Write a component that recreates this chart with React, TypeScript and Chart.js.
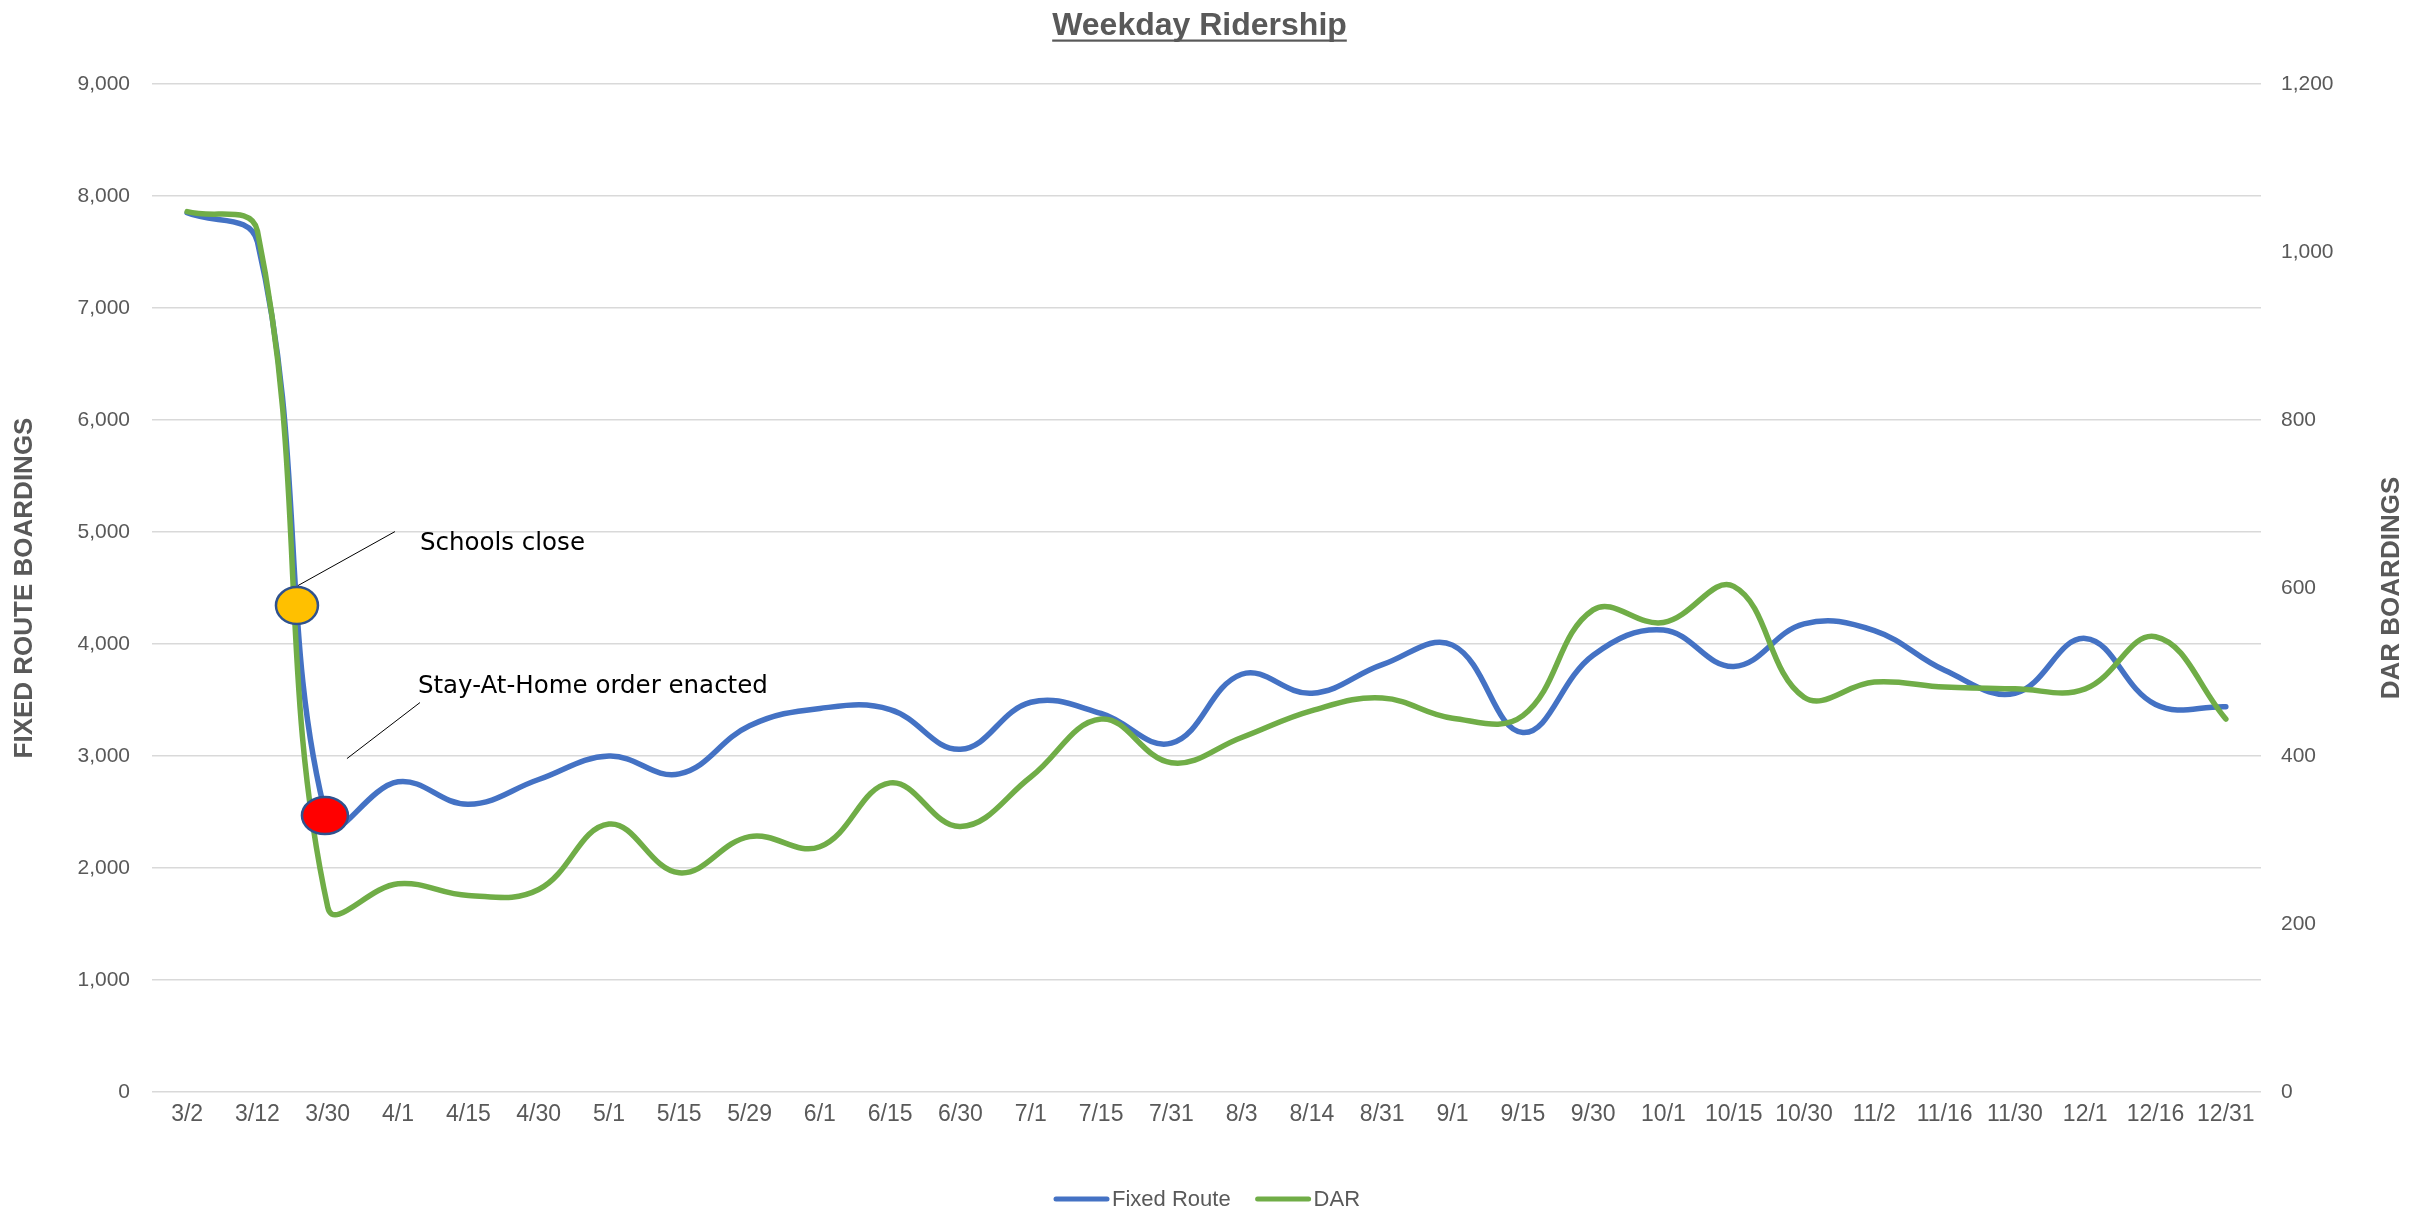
import React, { useEffect, useRef } from 'react';
import { Chart, registerables } from 'chart.js';

Chart.register(...registerables);

// ---- Data ----
const categories = ['3/2', '3/12', '3/30', '4/1', '4/15', '4/30', '5/1', '5/15', '5/29', '6/1', '6/15', '6/30', '7/1', '7/15', '7/31', '8/3', '8/14', '8/31', '9/1', '9/15', '9/30', '10/1', '10/15', '10/30', '11/2', '11/16', '11/30', '12/1', '12/16', '12/31'];
const fixedRoute = [7850, 7590, 2400, 2770, 2570, 2790, 3000, 2840, 3270, 3425, 3415, 3060, 3480, 3380, 3115, 3730, 3560, 3815, 3990, 3210, 3900, 4125, 3800, 4180, 4120, 3765, 3560, 4050, 3460, 3440];
const darBoardings = [1048, 1025, 220, 248, 234, 241, 319, 261, 304, 292, 368, 316, 375, 444, 392, 422, 454, 469, 445, 448, 574, 559, 602, 470, 488, 482, 480, 480, 542, 444];
const seriesNames = ['Fixed Route', 'DAR'];
const leftAxisTicks = [0, 1000, 2000, 3000, 4000, 5000, 6000, 7000, 8000, 9000];
const rightAxisTicks = [0, 200, 400, 600, 800, 1000, 1200];
const chartTitle = 'Weekday Ridership';
const leftAxisTitle = 'FIXED ROUTE BOARDINGS';
const rightAxisTitle = 'DAR BOARDINGS';
// annotation markers: [category index (fractional), fixed-route axis value]
const schoolsCloseMark = [1.562, 4343];
const stayAtHomeMark = [1.96, 2468];
const annotationTexts = ['Schools close', 'Stay-At-Home order enacted'];

const BLUE = '#4472C4';
const GREEN = '#70AD47';
const GREY = '#595959';

const customDraw = {
  id: 'customDraw',
  afterDatasetsDraw(chart: any) {
    const ctx = chart.ctx;
    const xs = chart.scales.x;
    const ys = chart.scales.y;
    const marks = [
      { v: schoolsCloseMark, fill: '#FFC000', rx: 21, ry: 18.5, text: annotationTexts[0], line: [1, -20, 98, -74], txt: [123, -62] },
      { v: stayAtHomeMark, fill: '#FF0000', rx: 23, ry: 18.5, text: annotationTexts[1], line: [95, -113, 22, -57], txt: [93, -129] },
    ];
    ctx.save();
    for (const m of marks) {
      const px = xs.getPixelForValue(m.v[0]);
      const py = ys.getPixelForValue(m.v[1]);
      ctx.strokeStyle = '#000';
      ctx.lineWidth = 1;
      ctx.beginPath();
      ctx.moveTo(px + m.line[0], py + m.line[1]);
      ctx.lineTo(px + m.line[2], py + m.line[3]);
      ctx.stroke();
      ctx.beginPath();
      ctx.ellipse(px, py, m.rx, m.ry, 0, 0, Math.PI * 2);
      ctx.fillStyle = m.fill;
      ctx.fill();
      ctx.lineWidth = 2.5;
      ctx.strokeStyle = '#2F528F';
      ctx.stroke();
      ctx.fillStyle = '#000';
      ctx.font = '24.5px "DejaVu Sans", Verdana, sans-serif';
      ctx.textAlign = 'left';
      ctx.textBaseline = 'middle';
      ctx.fillText(m.text, px + m.txt[0], py + m.txt[1]);
    }
    ctx.restore();
  },
  afterDraw(chart: any) {
    const ctx = chart.ctx;
    const ca = chart.chartArea;
    const W = chart.width;
    ctx.save();
    // Title
    ctx.font = 'bold 32px "Liberation Sans", Arial, sans-serif';
    ctx.fillStyle = GREY;
    ctx.textAlign = 'center';
    ctx.textBaseline = 'alphabetic';
    const tx = W / 2 - 17;
    ctx.fillText(chartTitle, tx, 35);
    const tw = ctx.measureText(chartTitle).width;
    ctx.fillRect(tx - tw / 2, 39.5, tw, 2.2);

    // Axis titles
    const midY = (ca.top + ca.bottom) / 2;
    ctx.font = 'bold 26px "Liberation Sans", Arial, sans-serif';
    ctx.textBaseline = 'middle';
    ctx.save();
    ctx.translate(ca.left - 127, midY);
    ctx.rotate(-Math.PI / 2);
    ctx.fillText(leftAxisTitle, 0, 0);
    ctx.restore();
    ctx.save();
    ctx.translate(ca.right + 131, midY);
    ctx.rotate(-Math.PI / 2);
    ctx.fillText(rightAxisTitle, 0, 0);
    ctx.restore();

    // Legend
    ctx.font = '22px "Liberation Sans", Arial, sans-serif';
    ctx.textAlign = 'left';
    ctx.textBaseline = 'middle';
    const ly = 1199;
    let x = 1054;
    const colors = [BLUE, GREEN];
    seriesNames.forEach((name, i) => {
      ctx.strokeStyle = colors[i];
      ctx.lineWidth = 5;
      ctx.lineCap = 'round';
      ctx.beginPath();
      ctx.moveTo(x + 2, ly);
      ctx.lineTo(x + 53, ly);
      ctx.stroke();
      x += 58;
      ctx.fillStyle = GREY;
      ctx.fillText(name, x, ly + 1);
      x += ctx.measureText(name).width + 25;
    });
    ctx.restore();
  },
};

export default function App() {
  const ref = useRef<HTMLCanvasElement>(null);
  useEffect(() => {
    document.body.style.margin = '0';
    const canvas = ref.current!;
    const chart = new Chart(canvas, {
      type: 'line',
      data: {
        labels: categories,
        datasets: [
          {
            label: seriesNames[0],
            data: fixedRoute,
            borderColor: BLUE,
            backgroundColor: BLUE,
            borderWidth: 5.5,
            pointRadius: 0,
            tension: 0.4,
            yAxisID: 'y',
            order: 1,
            borderCapStyle: 'round',
          },
          {
            label: seriesNames[1],
            data: darBoardings,
            borderColor: GREEN,
            backgroundColor: GREEN,
            borderWidth: 5.5,
            pointRadius: 0,
            tension: 0.4,
            yAxisID: 'y1',
            order: 0,
            borderCapStyle: 'round',
          },
        ],
      },
      options: {
        responsive: false,
        animation: false,
        layout: { padding: { top: 84, left: 0, right: 0, bottom: 0 } },
        plugins: {
          legend: { display: false },
          title: { display: false },
          tooltip: { enabled: false },
        },
        scales: {
          x: {
            type: 'category',
            offset: true,
            grid: { display: false, drawTicks: false },
            border: { display: false },
            ticks: {
              autoSkip: false,
              maxRotation: 0,
              minRotation: 0,
              padding: 9,
              color: GREY,
              font: { family: '"Liberation Sans Narrow", "Liberation Sans", Arial, sans-serif', size: 23 },
            },
            afterFit: (s: any) => { s.height = 125; },
          },
          y: {
            position: 'left',
            min: leftAxisTicks[0],
            max: leftAxisTicks[leftAxisTicks.length - 1],
            grid: { color: '#D9D9D9', lineWidth: 1.5, drawTicks: false },
            border: { display: false },
            afterBuildTicks: (s: any) => { s.ticks = leftAxisTicks.map((v) => ({ value: v })); },
            ticks: {
              padding: 22,
              color: GREY,
              font: { family: '"Liberation Sans", Arial, sans-serif', size: 21 },
              callback: (v: any) => Number(v).toLocaleString('en-US'),
            },
            afterFit: (s: any) => { s.width = 152; },
          },
          y1: {
            position: 'right',
            min: rightAxisTicks[0],
            max: rightAxisTicks[rightAxisTicks.length - 1],
            grid: { display: false, drawTicks: false },
            border: { display: false },
            afterBuildTicks: (s: any) => { s.ticks = rightAxisTicks.map((v) => ({ value: v })); },
            ticks: {
              padding: 20,
              color: GREY,
              font: { family: '"Liberation Sans", Arial, sans-serif', size: 21 },
              callback: (v: any) => Number(v).toLocaleString('en-US'),
            },
            afterFit: (s: any) => { s.width = 172; },
          },
        },
      },
      plugins: [customDraw],
    });
    return () => chart.destroy();
  }, []);
  return (
    <canvas ref={ref} width={2433} height={1217} style={{ display: 'block', width: 2433, height: 1217 }} />
  );
}
